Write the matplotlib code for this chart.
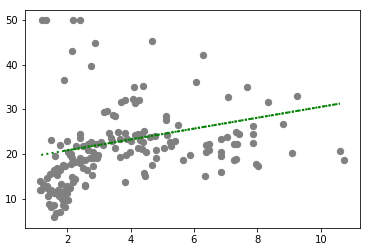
import numpy as np
import matplotlib
matplotlib.use("Agg")
import matplotlib.pyplot as plt

# puntos (x, y)
x_top = [1.20, 1.33, 2.17, 2.42, 2.14, 2.89, 1.91, 2.74, 4.69, 4.12, 4.38,
         3.15, 3.27, 3.44, 3.51, 3.69, 3.82, 4.09, 4.14, 4.28, 5.12, 5.12, 5.51]
y_top = [50.0, 50.0, 50.0, 50.0, 43.0, 44.8, 36.5, 39.7, 45.3, 35.0, 35.2,
         29.4, 29.6, 28.8, 28.5, 31.6, 32.1, 32.4, 31.4, 32.1, 28.5, 27.7, 26.6]

x_right = [6.30, 6.08, 7.06, 7.69, 8.35, 9.26, 7.85, 8.82, 7.33, 7.43, 7.85,
           7.85, 6.85, 7.05, 6.38, 6.49, 6.38, 6.49, 6.85, 6.85, 7.25, 7.35,
           7.25, 7.33, 5.89, 5.64, 6.36, 6.85, 7.96, 8.03, 9.10, 10.61, 10.74]
y_right = [42.2, 36.2, 32.7, 35.0, 31.7, 33.0, 26.3, 26.8, 25.0, 24.5, 24.5,
           22.5, 23.4, 23.8, 22.0, 22.3, 20.4, 20.8, 20.4, 19.6, 22.2, 22.3,
           18.7, 18.9, 19.8, 18.7, 15.1, 15.9, 17.8, 17.3, 20.2, 20.7, 18.7]

x_mid = [4.44, 4.36, 4.78, 4.38, 4.49, 4.81, 4.81, 5.04, 5.23, 5.41, 5.28,
         4.69, 4.41, 4.46, 4.62, 5.15,
         3.32, 3.59, 2.75, 2.92, 3.38, 3.42, 3.68, 3.90, 4.03, 4.14, 4.24,
         4.29, 3.50, 3.14, 3.06, 4.24, 4.37, 3.98, 2.66, 2.82, 2.98, 3.66,
         3.87, 2.80, 3.83, 2.78, 2.57, 3.83]
y_mid = [25.2, 24.5, 24.0, 22.6, 20.4, 20.8, 19.1, 21.3, 22.7, 23.0, 21.8,
         17.6, 15.7, 15.0, 23.9, 24.3,
         24.6, 25.0, 22.7, 22.3, 23.5, 23.0, 23.4, 23.4, 23.0, 24.3, 24.5,
         23.2, 21.3, 22.0, 22.8, 21.3, 21.1, 20.5, 20.9, 20.5, 19.8, 19.4,
         19.8, 19.0, 13.7, 15.2, 12.9, 24.7]

x_left = [1.50, 1.77, 1.98, 2.40, 2.40, 2.29, 2.50, 2.08, 1.61, 2.65,
          2.04, 2.13, 2.15, 2.41, 2.57, 2.73, 2.94,
          1.94, 2.12, 2.25, 2.41, 2.51, 2.62, 2.81,
          1.57, 1.67, 1.47, 1.62, 1.36, 1.77, 1.69, 1.87,
          1.15, 1.24, 1.36, 2.15, 2.25, 2.18, 2.00, 2.10, 1.80, 1.70,
          1.15, 1.47, 1.57, 1.83, 1.94, 1.99, 1.41, 1.73, 1.83, 1.99,
          1.19, 1.35, 1.50, 1.61, 1.93, 2.56,
          1.44, 1.57, 1.88, 1.78, 1.59, 1.50, 1.66, 1.93, 2.03]
y_left = [23.1, 22.0, 22.9, 24.4, 23.6, 21.8, 21.8, 19.8, 19.6, 22.3,
          20.5, 19.9, 19.2, 19.2, 18.7, 19.1, 19.2,
          17.2, 17.7, 18.3, 18.0, 16.8, 16.4, 17.2,
          16.4, 16.8, 15.5, 15.7, 14.6, 16.4, 15.3, 17.6,
          13.9, 13.2, 12.9, 14.8, 14.4, 13.8, 12.8, 12.4, 13.2, 12.0,
          12.0, 11.8, 11.3, 11.2, 10.4, 11.2, 10.5, 10.5, 10.0, 9.7,
          12.0, 12.3, 12.0, 11.2, 12.0, 13.1,
          8.8, 8.6, 8.6, 7.0, 5.8, 8.2, 6.7, 8.2, 9.7]

# recta ajustada (extremos leidos); el tramo denso empieza en x~1.9
fit_x = [1.18, 10.60]
fit_y = [19.8, 31.3]
dense_x = [1.90, 10.60]
dense_y = [20.7, 31.3]

xs = x_top + x_right + x_mid + x_left
ys = y_top + y_right + y_mid + y_left

plt.figure(figsize=(369/72.0, 250/72.0), dpi=72)
ax = plt.axes([25/369.0, 22/250.0, 335/369.0, 218/250.0])
ax.scatter(xs, ys, s=40, color='grey', zorder=2)
ax.plot(fit_x, fit_y, color='green', linestyle=':', linewidth=2, zorder=3)
ax.plot(dense_x, dense_y, color='green', linestyle=(0, (1, 0.7)), linewidth=2, zorder=3)
ax.set_xlim(0.67, 11.24)
ax.set_ylim(3.4, 52.3)
ax.set_xticks([2, 4, 6, 8, 10])
ax.set_yticks([10, 20, 30, 40, 50])
ax.tick_params(labelsize=10)
plt.savefig("out.png", dpi=72)
